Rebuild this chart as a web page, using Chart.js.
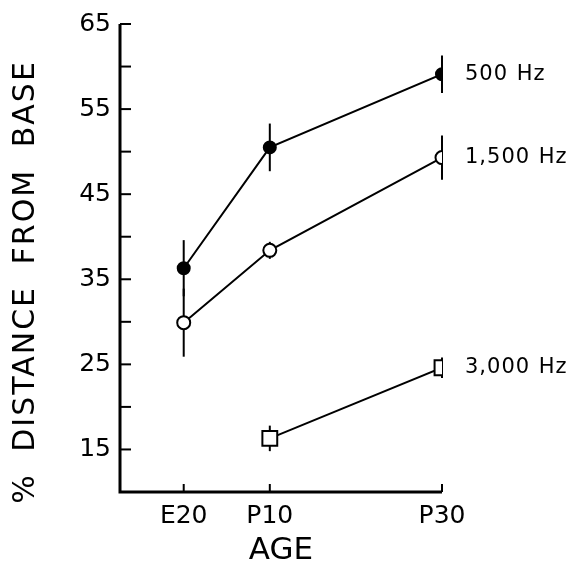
<!DOCTYPE html>
<html>
<head>
<meta charset="utf-8">
<script src="https://cdn.jsdelivr.net/npm/chart.js@4"></script>
<style>
  body { margin: 0; background: #fff; }
  canvas { display: block; }
</style>
</head>
<body>
<canvas id="chart" width="584" height="570"></canvas>
<script>
const ages = ['E20', 'P10', 'P30'];
const agePos = [0, 10, 30];
const hz500 = [36.3, 50.5, 59.1];
const hz500Err = [3.3, 2.8, 2.2];
const hz1500 = [29.9, 38.4, 49.3];
const hz1500Err = [4.0, 1.0, 2.6];
const hz3000 = [null, 16.3, 24.6];
const hz3000Err = [null, 1.5, 1.2];
const seriesNames = ['500 Hz', '1,500 Hz', '3,000 Hz'];
const yTickValues = [15, 20, 25, 30, 35, 40, 45, 50, 55, 60, 65];
const yTitle = '% DISTANCE FROM BASE';

const FONT = 'DejaVu Sans';

function toPoints(values) {
    return values.map((v, i) => ({ x: agePos[i], y: v })).filter(p => p.y !== null);
}

// vertical error bars, drawn under the markers
const errorBars = {
    id: 'errorBars',
    beforeDatasetsDraw(chart) {
        const ctx = chart.ctx;
        const xs = chart.scales.x, ys = chart.scales.y;
        ctx.save();
        ctx.strokeStyle = '#000';
        ctx.lineWidth = 2;
        chart.data.datasets.forEach(ds => {
            ds.data.forEach(p => {
                const err = ds.errors[agePos.indexOf(p.x)];
                if (!err) return;
                const x = xs.getPixelForValue(p.x);
                ctx.beginPath();
                ctx.moveTo(x, ys.getPixelForValue(p.y + err));
                ctx.lineTo(x, ys.getPixelForValue(p.y - err));
                ctx.stroke();
            });
        });
        ctx.restore();
    }
};

// axis lines with inward ticks, y title, and series names at the right end
const axesAndNames = {
    id: 'axesAndNames',
    afterDraw(chart) {
        const ctx = chart.ctx;
        const xs = chart.scales.x, ys = chart.scales.y;
        const a = chart.chartArea;
        ctx.save();
        ctx.strokeStyle = '#000';
        ctx.lineWidth = 3;
        ctx.beginPath();
        ctx.moveTo(a.left, a.top);
        ctx.lineTo(a.left, a.bottom);
        ctx.lineTo(a.right, a.bottom);
        ctx.stroke();
        ctx.lineWidth = 2;
        yTickValues.forEach(v => {
            const y = ys.getPixelForValue(v);
            ctx.beginPath();
            ctx.moveTo(a.left, y);
            ctx.lineTo(a.left + 11, y);
            ctx.stroke();
        });
        agePos.forEach(v => {
            const x = xs.getPixelForValue(v);
            ctx.beginPath();
            ctx.moveTo(x, a.bottom);
            ctx.lineTo(x, a.bottom - 8);
            ctx.stroke();
        });

        ctx.fillStyle = '#000';
        ctx.textBaseline = 'middle';

        // y title
        ctx.save();
        ctx.translate(26, 282);
        ctx.rotate(-Math.PI / 2);
        ctx.font = '30px "' + FONT + '"';
        ctx.letterSpacing = '2px';
        ctx.wordSpacing = '10px';
        ctx.textAlign = 'center';
        ctx.fillText(yTitle, 0, 0);
        ctx.restore();

        ctx.font = '21px "' + FONT + '"';
        ctx.letterSpacing = '1px';
        ctx.wordSpacing = '1px';
        ctx.textAlign = 'left';
        chart.data.datasets.forEach((ds, i) => {
            const last = ds.data[ds.data.length - 1];
            ctx.fillText(seriesNames[i], xs.getPixelForValue(last.x) + 23, ys.getPixelForValue(last.y));
        });
        ctx.restore();
    }
};

const common = {
    borderColor: '#000',
    borderWidth: 2,
    pointBorderColor: '#000',
    pointBorderWidth: 2,
    pointHoverRadius: 6,
    showLine: true,
    tension: 0
};

new Chart(document.getElementById('chart'), {
    type: 'scatter',
    data: {
        datasets: [
            { ...common, data: toPoints(hz500), errors: hz500Err,
              pointStyle: 'circle', pointRadius: 6, pointBackgroundColor: '#000' },
            { ...common, data: toPoints(hz1500), errors: hz1500Err,
              pointStyle: 'circle', pointRadius: 6.5, pointBackgroundColor: '#fff' },
            { ...common, data: toPoints(hz3000), errors: hz3000Err,
              pointStyle: 'rect', pointRadius: 10.5, pointBackgroundColor: '#fff' }
        ]
    },
    options: {
        responsive: false,
        animation: false,
        layout: { padding: { top: 6, right: 142, left: 0, bottom: 0 } },
        plugins: { legend: { display: false }, tooltip: { enabled: false } },
        scales: {
            x: {
                type: 'linear',
                min: -7.4,
                max: 30,
                grid: { display: false, drawTicks: false },
                border: { display: false },
                afterBuildTicks: scale => { scale.ticks = agePos.map(v => ({ value: v })); },
                afterFit: scale => { scale.height = 78; },
                ticks: {
                    color: '#000',
                    padding: 9,
                    maxRotation: 0,
                    font: { family: FONT, size: 25 },
                    callback: v => ages[agePos.indexOf(v)]
                },
                title: {
                    display: true,
                    text: 'AGE',
                    color: '#000',
                    font: { family: FONT, size: 31 },
                    padding: { top: 1, bottom: 0 }
                }
            },
            y: {
                min: 10,
                max: 65,
                grid: { display: false, drawTicks: false },
                border: { display: false },
                afterFit: scale => { scale.width = 120; },
                ticks: {
                    stepSize: 5,
                    color: '#000',
                    padding: 9,
                    font: { family: FONT, size: 25 },
                    callback: v => (v % 10 === 5 ? v : '')
                }
            }
        }
    },
    plugins: [errorBars, axesAndNames]
});
</script>
</body>
</html>
